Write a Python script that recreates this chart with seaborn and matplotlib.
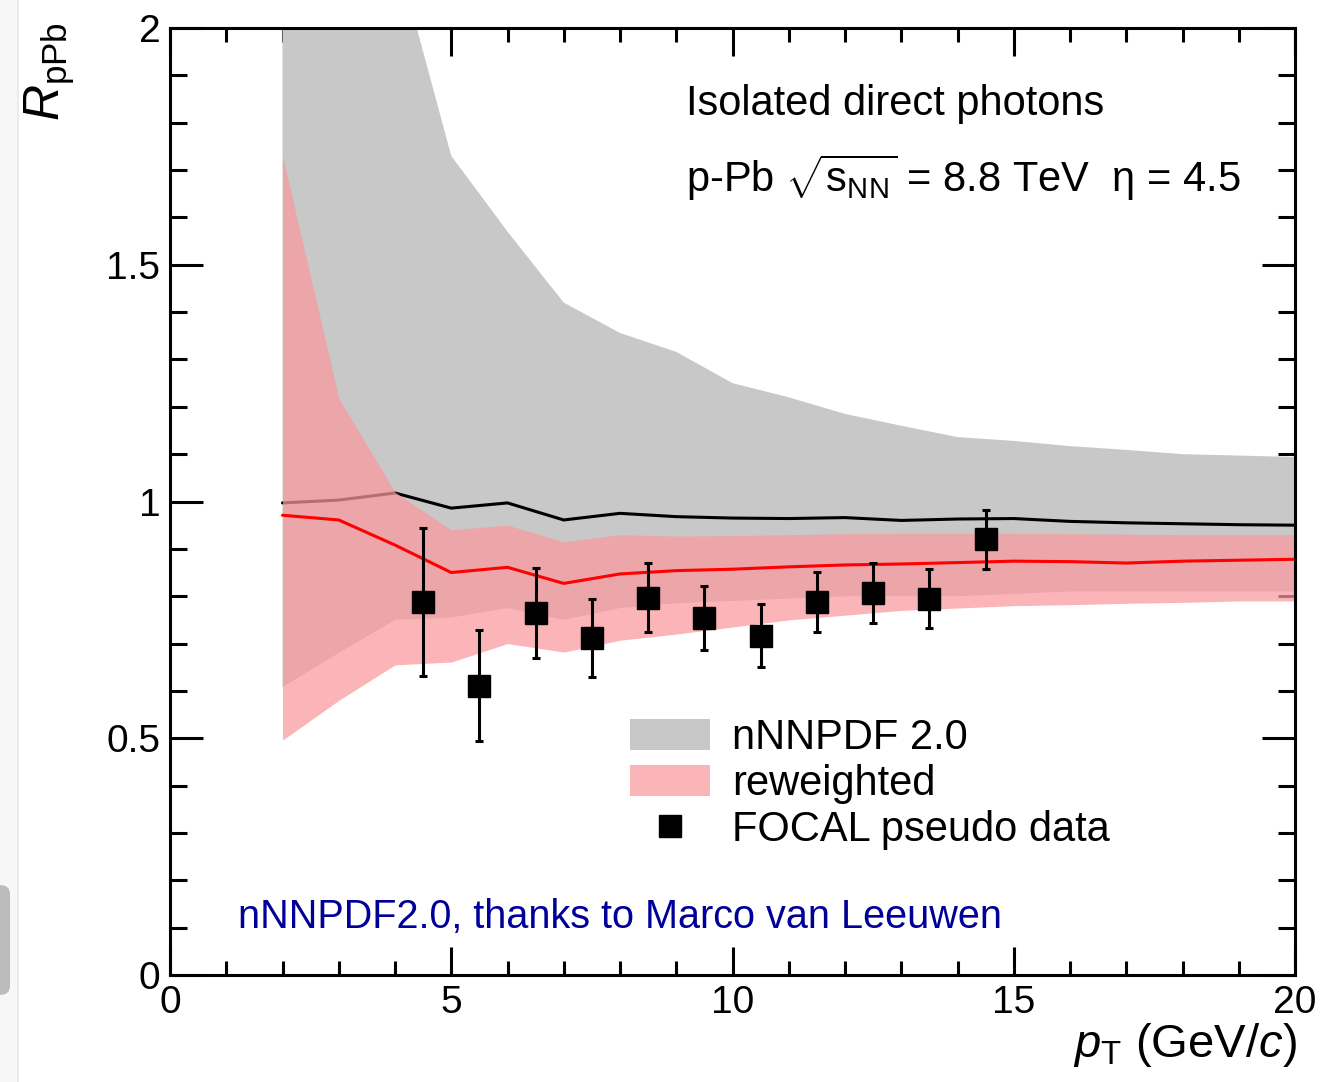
import matplotlib
matplotlib.use("Agg")
import matplotlib.pyplot as plt
import matplotlib.patches as mpatches
from matplotlib.lines import Line2D
from matplotlib.ticker import MultipleLocator
import pandas as pd
import seaborn as sns

# -----------------------------
# Data
# -----------------------------
pt_grid = [2, 3, 4, 5, 6, 7, 8, 9, 10, 11, 12, 13, 14, 15, 16, 17, 18, 19, 20]

nnpdf_central = [0.997, 1.003, 1.018, 0.986, 0.997, 0.961, 0.975, 0.968, 0.965, 0.964,
                 0.966, 0.960, 0.963, 0.964, 0.958, 0.955, 0.953, 0.951, 0.950]
nnpdf_upper = [3.20, 2.60, 2.17, 1.73, 1.57, 1.42, 1.356, 1.316, 1.25, 1.22,
               1.185, 1.16, 1.136, 1.128, 1.117, 1.109, 1.10, 1.097, 1.094]
nnpdf_lower = [0.608, 0.68, 0.75, 0.755, 0.775, 0.75, 0.775, 0.785, 0.79, 0.795,
               0.80, 0.80, 0.80, 0.805, 0.81, 0.81, 0.81, 0.81, 0.81]

rew_central = [0.971, 0.961, 0.908, 0.850, 0.861, 0.827, 0.847, 0.854, 0.857, 0.862,
               0.866, 0.868, 0.871, 0.874, 0.873, 0.870, 0.874, 0.876, 0.878]
rew_upper = [1.73, 1.218, 1.02, 0.94, 0.95, 0.915, 0.93, 0.927, 0.928, 0.93,
             0.932, 0.933, 0.933, 0.933, 0.932, 0.931, 0.930, 0.930, 0.930]
rew_lower = [0.496, 0.58, 0.655, 0.661, 0.70, 0.682, 0.707, 0.72, 0.735, 0.75,
             0.76, 0.77, 0.775, 0.78, 0.782, 0.785, 0.787, 0.79, 0.79]

pseudo_pt = [4.5, 5.5, 6.5, 7.5, 8.5, 9.5, 10.5, 11.5, 12.5, 13.5, 14.5]
pseudo_r = [0.788, 0.611, 0.764, 0.712, 0.797, 0.754, 0.717, 0.788, 0.807, 0.795, 0.920]
pseudo_err = [0.157, 0.117, 0.095, 0.082, 0.073, 0.068, 0.066, 0.064, 0.063, 0.063, 0.063]

x_ticks = [0, 5, 10, 15, 20]
y_ticks = [0, 0.5, 1, 1.5, 2]
y_ticklabels = ["0", "0.5", "1", "1.5", "2"]

curves = pd.DataFrame({
    "pt": pt_grid,
    "nnpdf": nnpdf_central,
    "reweighted": rew_central,
})

# -----------------------------
# Style
# -----------------------------
sns.set_theme(style="ticks")
plt.rcParams["font.family"] = ["Liberation Sans", "DejaVu Sans"]
plt.rcParams["text.color"] = "black"
plt.rcParams["mathtext.fontset"] = "custom"
plt.rcParams["mathtext.rm"] = "Liberation Sans"
plt.rcParams["mathtext.it"] = "Liberation Sans:italic"
plt.rcParams["mathtext.bf"] = "Liberation Sans:bold"

GREY = "#c8c8c8"
PINK = (250 / 255, 152 / 255, 158 / 255)
PINK_ALPHA = 0.73

W, H = 1320, 1082
fig = plt.figure(figsize=(W / 100, H / 100), dpi=100)
fig.patch.set_facecolor("white")

# screenshot chrome on the left edge
fig.patches.append(mpatches.Rectangle((0, 0), 17 / W, 1, transform=fig.transFigure,
                                      facecolor="#f7f7f7", edgecolor="none", zorder=0))
fig.patches.append(mpatches.Rectangle((17 / W, 0), 2 / W, 1, transform=fig.transFigure,
                                      facecolor="#ebebeb", edgecolor="none", zorder=0))
fig.patches.append(mpatches.FancyBboxPatch((-10 / W, (H - 995) / H), 20 / W, 110 / H,
                                           boxstyle="round,pad=0,rounding_size=0.008",
                                           transform=fig.transFigure,
                                           facecolor="#bcbcbc", edgecolor="none", zorder=0))

ax = fig.add_axes([170 / W, 107 / H, 1125 / W, 947 / H])

# -----------------------------
# Bands and central curves
# -----------------------------
ax.fill_between(pt_grid, nnpdf_lower, nnpdf_upper, color=GREY, linewidth=0, zorder=1)
sns.lineplot(data=curves, x="pt", y="nnpdf", color="black", linewidth=2.2, ax=ax, zorder=2)
ax.fill_between(pt_grid, rew_lower, rew_upper, color=PINK, alpha=PINK_ALPHA,
                linewidth=0, zorder=3)
sns.lineplot(data=curves, x="pt", y="reweighted", color="red", linewidth=2.2, ax=ax, zorder=4)

ax.errorbar(pseudo_pt, pseudo_r, yerr=pseudo_err, fmt="s", color="black",
            markersize=16.5, elinewidth=2.2, capsize=3, capthick=2.2, zorder=5)

# -----------------------------
# Axes
# -----------------------------
ax.set_xlim(0, 20)
ax.set_ylim(0, 2)
ax.set_xlabel("")
ax.set_ylabel("")
ax.set_xticks(x_ticks)
ax.set_xticklabels([str(t) for t in x_ticks])
ax.set_yticks(y_ticks)
ax.set_yticklabels(y_ticklabels)
ax.xaxis.set_minor_locator(MultipleLocator(1))
ax.yaxis.set_minor_locator(MultipleLocator(0.1))

for sp in ax.spines.values():
    sp.set_linewidth(2.2)
    sp.set_color("black")
    sp.set_zorder(6)

ax.tick_params(which="both", direction="in", top=True, right=True,
               width=2.2, colors="black", labelsize=28)
ax.tick_params(axis="x", which="major", length=20, pad=7)
ax.tick_params(axis="x", which="minor", length=10)
ax.tick_params(axis="y", which="major", length=24, pad=7)
ax.tick_params(axis="y", which="minor", length=12)

fig.text(50 / W, (H - 72) / H, r"$R_{\mathrm{pPb}}$", rotation=90,
         ha="center", va="center", fontsize=36)
fig.text(1297 / W, (H - 1045) / H, r"$p_{\mathrm{T}}$ (GeV/$c$)",
         ha="right", va="center", fontsize=34)

# -----------------------------
# Annotations
# -----------------------------
ax.text(0.4587, 0.908, "Isolated direct photons", transform=ax.transAxes,
        ha="left", va="baseline", fontsize=30)
ax.text(0.4587, 0.827, r"p-Pb $\sqrt{\mathrm{s}_{\mathrm{NN}}}$ = 8.8 TeV  η = 4.5",
        transform=ax.transAxes, ha="left", va="baseline", fontsize=30)
ax.text((238 - 170) / 1125, (975 - 928) / 947, "nNNPDF2.0, thanks to Marco van Leeuwen",
        transform=ax.transAxes, ha="left", va="baseline", fontsize=28.5, color="#000099")

handles = [
    mpatches.Patch(facecolor=GREY, edgecolor="none", label="nNNPDF 2.0"),
    mpatches.Patch(facecolor="#fbb4b8", edgecolor="none", label="reweighted"),
    Line2D([], [], marker="s", linestyle="none", color="black", markersize=16.5,
           label="FOCAL pseudo data"),
]
ax.legend(handles=handles, loc="upper left",
          bbox_to_anchor=((630 - 170) / 1125, (975 - 718) / 947),
          frameon=False, fontsize=30, borderpad=0, borderaxespad=0,
          handlelength=1.92, handleheight=0.79, handletextpad=0.53,
          labelspacing=0.14)

fig.savefig("out.png", dpi=100)
